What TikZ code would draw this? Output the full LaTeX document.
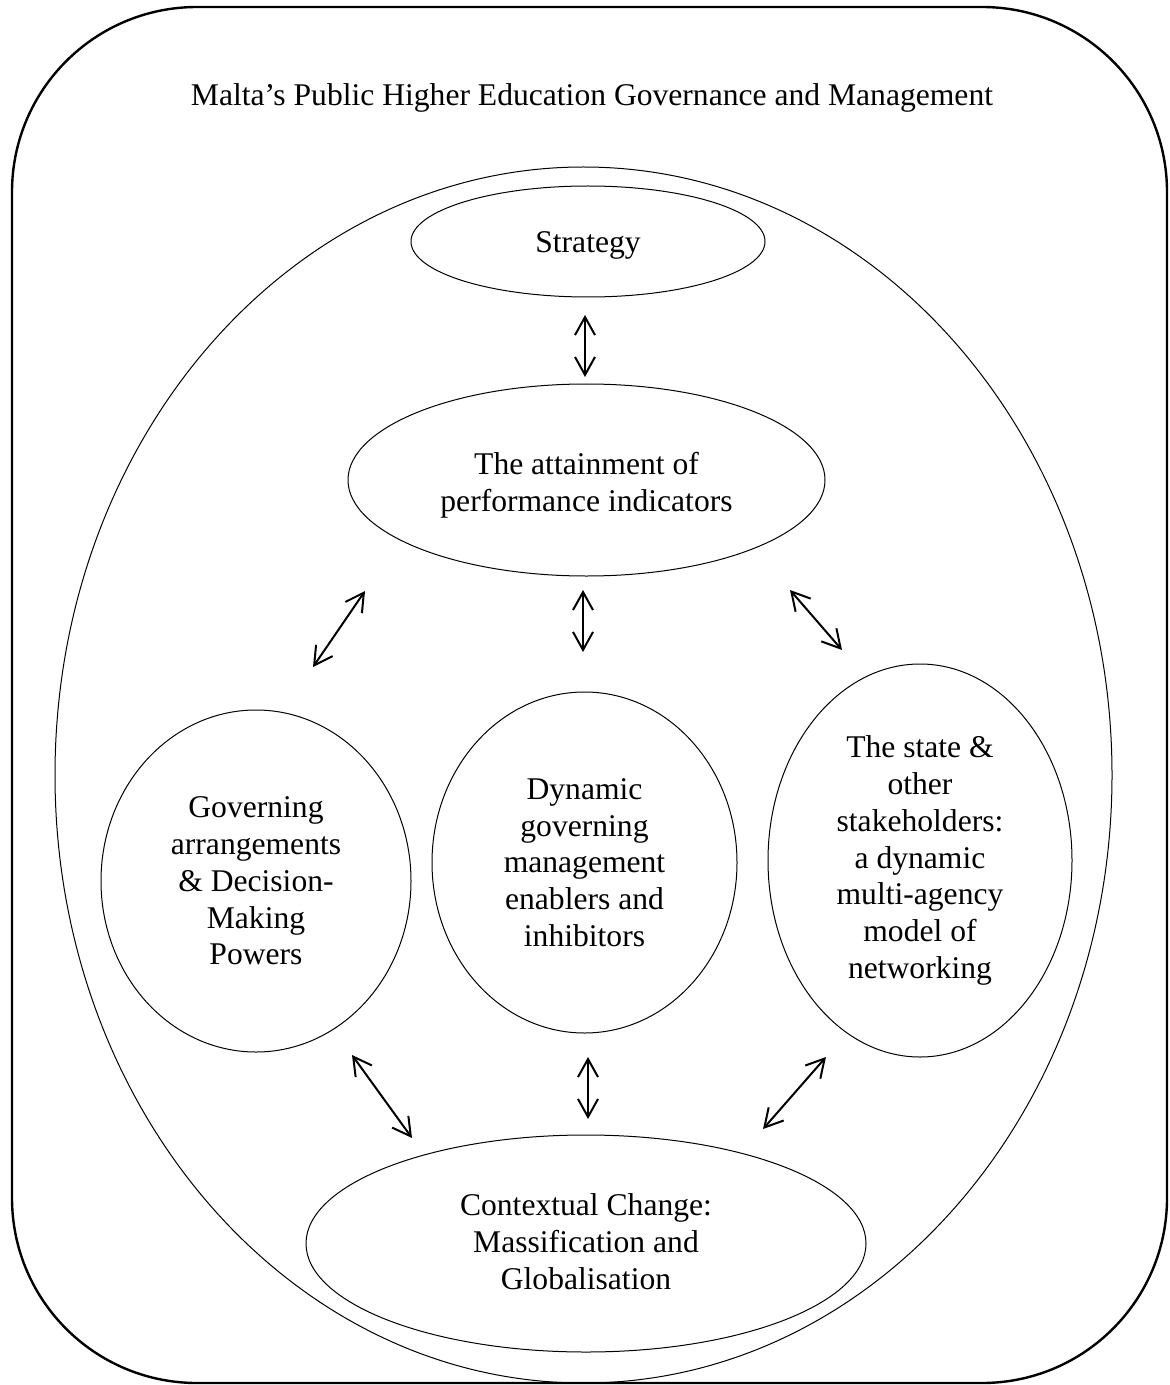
\documentclass[tikz,border=0pt]{standalone}
\usepackage{fontspec}
\setmainfont{Liberation Serif}
\usetikzlibrary{shapes.geometric,arrows.meta}
\begin{document}
\begin{tikzpicture}[x=0.5pt,y=-0.5pt,
  every node/.style={font=\fontsize{15.8}{18.35}\selectfont, align=center, inner sep=0pt, outer sep=0pt},
  bubble/.style={draw, ellipse, line width=0.5pt},
  link/.style={{Straight Barb[length=9pt,width=10pt]}-{Straight Barb[length=9pt,width=10pt]}, line width=1pt}
]
\useasboundingbox (0,0) rectangle (1170,1385);

% outer frame and enclosing ellipse
\node[draw, rectangle, rounded corners=92.5pt, line width=1.2pt,
      minimum width=577.5pt, minimum height=688pt] (frame) at (589.5,695) {};
\node[bubble, minimum width=528.5pt, minimum height=608pt] (system) at (583.5,775) {};

\node[anchor=base] (title) at (592,106) {Malta’s Public Higher Education Governance and Management};

% themes
\node[bubble, minimum width=177pt, minimum height=55.5pt] (strategy) at (588,241.5) {};
\node[anchor=base] (strategytext) at (strategy.center) [yshift=-5.5pt] {Strategy};
\node[bubble, minimum width=238.5pt, minimum height=96pt] (kpi) at (586.5,480) {};
\node (kpitext) at (kpi.center) [yshift=-2.5pt] {The attainment of\\performance indicators};
\node[bubble, minimum width=155pt, minimum height=171pt] (gov) at (256,881) {Governing\\arrangements\\\& Decision-\\Making\\Powers};
\node[bubble, minimum width=152.5pt, minimum height=170.5pt] (dyn) at (584.5,862.5) {Dynamic\\governing\\management\\enablers and\\inhibitors};
\node[bubble, minimum width=152pt, minimum height=196.5pt] (state) at (920,860.5) {The state \&\\other\\stakeholders:\\a dynamic\\multi-agency\\model of\\networking};
\node[bubble, minimum width=280pt, minimum height=108.5pt] (context) at (586,1243.5) {};
\node (contexttext) at (context.center) [yshift=1pt] {Contextual Change:\\Massification and\\Globalisation};

% arrow end points
\coordinate (s1) at (585,315);  \coordinate (k1) at (585,377);
\coordinate (k2) at (365,591);  \coordinate (g1) at (313,667);
\coordinate (k3) at (583,590);  \coordinate (d1) at (583,652);
\coordinate (k4) at (790,590);  \coordinate (t1) at (842,650);
\coordinate (g2) at (352,1055); \coordinate (c1) at (412,1138);
\coordinate (d2) at (588,1057); \coordinate (c2) at (588,1119);
\coordinate (t2) at (826,1057); \coordinate (c3) at (763,1129);

\draw[link] (s1) -- (k1);
\draw[link] (k2) -- (g1);
\draw[link] (k3) -- (d1);
\draw[link] (k4) -- (t1);
\draw[link] (g2) -- (c1);
\draw[link] (d2) -- (c2);
\draw[link] (t2) -- (c3);
\end{tikzpicture}
\end{document}
